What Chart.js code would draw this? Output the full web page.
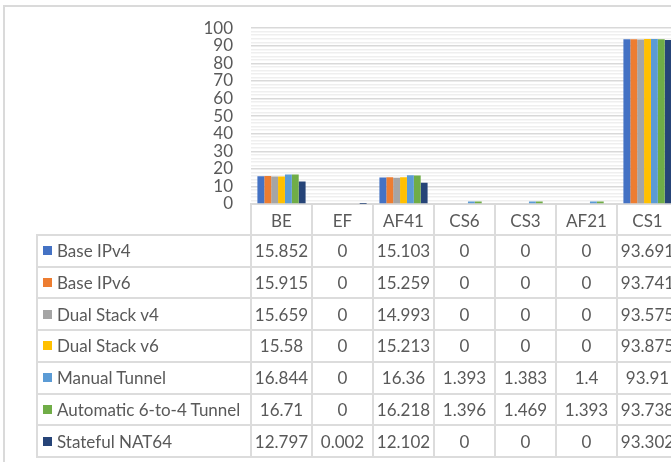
<!DOCTYPE html>
<html><head><meta charset="utf-8">
<script src="https://cdn.jsdelivr.net/npm/chart.js@4/dist/chart.umd.min.js"></script>
<style>
html,body{margin:0;padding:0;background:#fff;overflow:hidden;width:671px;height:462px;}
#wrap{position:relative;width:690px;height:462px;}
#frame{position:absolute;left:3px;top:5px;width:720px;height:480px;border-left:2px solid #dadada;border-top:2px solid #dadada;}
#c{position:absolute;left:0;top:0;}
.cell{position:absolute;box-sizing:border-box;border:2px solid #dcdcdc;font-family:Lato,sans-serif;font-size:17px;color:#595959;white-space:nowrap;overflow:hidden;display:flex;align-items:center;}
.num{justify-content:center;}
.sw{display:inline-block;width:9px;height:9px;margin-left:5px;margin-right:5px;}
</style></head>
<body><div id="wrap"><div id="frame"></div><canvas id="c" width="680" height="235"></canvas><div id="tbl"></div></div>
<script>
const categories = ['BE','EF','AF41','CS6','CS3','AF21','CS1'];
const seriesNames = ['Base IPv4','Base IPv6','Dual Stack v4','Dual Stack v6','Manual Tunnel','Automatic 6-to-4 Tunnel','Stateful NAT64'];
const baseIPv4 = [15.852,0,15.103,0,0,0,93.691];
const baseIPv6 = [15.915,0,15.259,0,0,0,93.741];
const dualStackV4 = [15.659,0,14.993,0,0,0,93.575];
const dualStackV6 = [15.58,0,15.213,0,0,0,93.875];
const manualTunnel = [16.844,0,16.36,1.393,1.383,1.4,93.91];
const automatic6to4 = [16.71,0,16.218,1.396,1.469,1.393,93.738];
const statefulNAT64 = [12.797,0.002,12.102,0,0,0,93.302];
const yTickLabels = [0,10,20,30,40,50,60,70,80,90,100];
const seriesColors = ['#4472C4','#ED7D31','#A5A5A5','#FFC000','#5B9BD5','#70AD47','#264478'];
const seriesValues = [baseIPv4,baseIPv6,dualStackV4,dualStackV6,manualTunnel,automatic6to4,statefulNAT64];

const font = {family:'Lato', size:17};
const textColor = '#595959';

const chart = new Chart(document.getElementById('c'), {
  type:'bar',
  data:{
    labels:categories,
    datasets:seriesNames.map((n,i)=>({label:n,data:seriesValues[i],backgroundColor:seriesColors[i],borderWidth:0}))
  },
  options:{
    responsive:false, animation:false,
    layout:{padding:{top:20,left:0,right:2,bottom:0}},
    plugins:{legend:{display:false},tooltip:{enabled:false}},
    datasets:{bar:{categoryPercentage:0.79,barPercentage:1}},
    scales:{
      x:{
        border:{display:true,color:'#d9d9d9',width:2},
        grid:{display:true,drawOnChartArea:false,drawTicks:true,tickLength:31,color:'#dcdcdc',lineWidth:2,offset:true},
        ticks:{font:font,color:textColor,padding:-24,maxRotation:0,autoSkip:false},
        afterFit(s){s.height=31;}
      },
      y:{
        min:0,max:100,
        border:{display:false},
        grid:{drawTicks:false,lineWidth:1.5,color:ctx=>(ctx.tick && yTickLabels.includes(ctx.tick.value))?'#d9d9d9':'#efefef'},
        ticks:{stepSize:2,autoSkip:false,padding:18,font:font,color:textColor,
          callback:v=>yTickLabels.includes(v)?String(v):''},
        afterFit(s){s.width=251;}
      }
    }
  }
});

// data table below the chart, aligned to the category scale
(function(){
  const xs = chart.scales.x;
  const ca = chart.chartArea;
  const colW = (ca.right-ca.left)/categories.length;
  const top0 = ca.bottom + 31;
  const bottom = 457;
  const rowH = (bottom-top0)/seriesNames.length;
  const legendLeft = 37;
  const tbl = document.getElementById('tbl');
  function cell(x,y,w,h,cls,html){
    const d=document.createElement('div');
    d.className='cell '+cls;
    d.style.left=(x-1)+'px'; d.style.top=(y-1)+'px';
    d.style.width=(w+2)+'px'; d.style.height=(h+2)+'px';
    d.innerHTML=html; tbl.appendChild(d);
  }
  seriesNames.forEach((n,i)=>{
    const y = top0 + i*rowH;
    cell(legendLeft,y,ca.left-legendLeft,rowH,'','<span class="sw" style="background:'+seriesColors[i]+'"></span>'+n);
    categories.forEach((c,j)=>{
      const cx = xs.getPixelForValue(j);
      cell(cx-colW/2,y,colW,rowH,'num',String(seriesValues[i][j]));
    });
  });
})();
</script></body></html>
